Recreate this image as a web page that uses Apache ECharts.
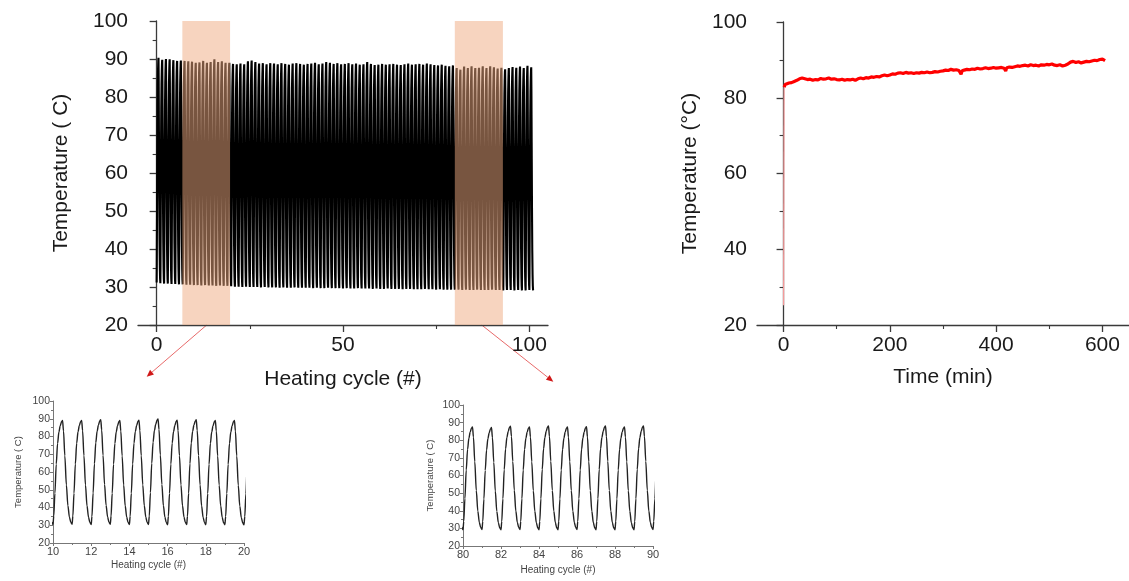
<!DOCTYPE html>
<html>
<head>
<meta charset="utf-8">
<script src="https://cdn.jsdelivr.net/npm/echarts@6/dist/echarts.min.js"></script>
<style>
html,body{margin:0;padding:0;background:#fff;}
#chart{width:1129px;height:581px;}
</style>
</head>
<body>
<div id="chart"></div>
<script>
// ---------- DATA ----------
// Heating-cycle experiment: peak temperature of each cycle (cycle 0..100)
const cyclePeaks = [
  90.3, 89.8, 90.0, 89.9, 89.7, 89.5, 89.6, 89.5, 89.4, 89.3,
  89.0, 89.1, 89.5, 89.0, 89.2, 89.9, 89.2, 89.4, 89.0, 89.0,
  88.7, 88.6, 88.8, 88.6, 89.4, 89.6, 89.2, 88.8, 88.9, 88.6,
  88.9, 88.8, 88.6, 88.9, 88.7, 88.5, 88.8, 88.9, 88.7, 88.5,
  88.7, 88.8, 89.0, 88.6, 88.8, 89.2, 89.0, 88.7, 88.9, 88.6,
  88.7, 88.9, 88.6, 88.8, 88.5, 88.6, 89.2, 88.7, 88.4, 88.5,
  88.7, 88.5, 88.6, 88.7, 88.5, 88.4, 88.6, 88.8, 88.5, 88.6,
  88.7, 88.5, 88.8, 88.6, 88.4, 88.3, 88.5, 88.2, 88.1, 88.3,
  87.6, 87.2, 88.0, 87.6, 88.1, 87.6, 87.7, 88.1, 87.6, 88.1,
  87.8, 87.5, 87.7, 87.3, 87.6, 87.9, 87.7, 88.0, 87.6, 88.2,
  87.8
];
// trough temperature at the start of each cycle (x = 0..101)
const cycleTroughs = [
  31.2, 31.0, 30.9, 30.9, 30.8, 30.8, 30.7, 30.7, 30.6, 30.6,
  30.5, 30.5, 30.4, 30.5, 30.4, 30.4, 30.3, 30.4, 30.3, 30.3,
  30.2, 30.1, 30.1, 30.0, 30.1, 30.0, 30.0, 30.0, 29.9, 30.0,
  29.9, 29.9, 29.9, 29.8, 29.9, 29.8, 29.8, 29.9, 29.8, 29.8,
  29.8, 29.8, 29.7, 29.8, 29.7, 29.7, 29.8, 29.7, 29.7, 29.7,
  29.6, 29.7, 29.6, 29.6, 29.7, 29.6, 29.6, 29.6, 29.5, 29.6,
  29.5, 29.5, 29.6, 29.5, 29.5, 29.5, 29.4, 29.5, 29.5, 29.4,
  29.4, 29.4, 29.5, 29.4, 29.4, 29.3, 29.4, 29.3, 29.3, 29.3,
  29.3, 29.3, 29.2, 29.3, 29.2, 29.2, 29.3, 29.2, 29.2, 29.2,
  29.3, 29.2, 29.2, 29.1, 29.2, 29.2, 29.1, 29.2, 29.1, 29.1,
  29.2, 29.1
];
// shape of one heating cycle
// (fraction of the cycle, fraction of the trough->peak swing)
const cyclePhase = [0, 0.04, 0.10, 0.17, 0.24, 0.31, 0.38, 0.45, 0.50, 0.55, 0.62, 0.70, 0.78, 0.86, 0.93];
const cycleLevel = [0, 0.08, 0.30, 0.58, 0.78, 0.89, 0.95, 0.99, 1.00, 0.90, 0.66, 0.38, 0.18, 0.07, 0.02];

// highlighted cycle windows (x ranges)
const shadeRanges = [[6.9, 19.7], [80.0, 92.9]];

// Continuous run: temperature vs time
const rampTime = [0, 1];
const rampTemp = [25.2, 82.8];
const runTime = [1, 3, 5, 10, 15, 20, 25, 30, 35, 40, 45, 50, 55, 60, 65, 70, 75, 80, 85, 90, 95,
  100, 105, 110, 115, 120, 125, 130, 135, 140, 145, 150, 155, 160, 165, 170, 175, 180, 185, 190, 195,
  200, 205, 210, 215, 220, 225, 230, 235, 240, 245, 250, 255, 260, 265, 270, 275, 280, 285, 290, 295,
  300, 305, 310, 315, 320, 325, 330, 334, 336, 340, 345, 350, 355, 360, 365, 370, 375, 380, 385, 390, 395,
  400, 405, 410, 415, 418, 420, 425, 430, 435, 440, 445, 450, 455, 460, 465, 470, 475, 480, 485, 490, 495,
  500, 505, 510, 515, 520, 525, 530, 535, 540, 545, 550, 555, 560, 565, 570, 575, 580, 585, 590, 595,
  600, 603, 605];
const runTemp = [82.8, 83.5, 83.4, 83.9, 84.0, 84.3, 84.6, 85.0, 85.2, 85.0, 84.8, 84.9, 84.6, 84.8, 84.7, 85.1, 84.9, 85.0, 85.2, 84.9, 85.0,
  84.8, 84.7, 84.9, 84.6, 84.8, 84.7, 84.9, 84.6, 85.0, 85.2, 85.0, 85.3, 85.2, 85.5, 85.4, 85.6, 85.5, 85.8, 86.0, 85.8,
  86.0, 86.3, 86.2, 86.5, 86.6, 86.4, 86.7, 86.5, 86.6, 86.4, 86.6, 86.5, 86.7, 86.6, 86.8, 86.6, 86.7, 86.9, 86.8, 87.0,
  87.1, 87.3, 87.2, 87.5, 87.3, 87.4, 87.2, 86.2, 87.1, 87.3, 87.5, 87.4, 87.6, 87.5, 87.8, 87.6, 87.7, 87.9, 87.7, 87.8, 88.0,
  87.8, 87.9, 88.0, 87.8, 87.1, 87.9, 88.1, 88.0, 88.2, 88.4, 88.3, 88.5, 88.6, 88.4, 88.7, 88.5, 88.6, 88.4, 88.7, 88.6, 88.8,
  88.7, 88.9, 88.6, 88.5, 88.7, 88.4, 88.6, 88.9, 89.4, 89.6, 89.3, 89.5, 89.2, 89.4, 89.6, 89.5, 89.7, 89.9, 89.8, 90.1,
  90.2, 89.9, 89.8];

// ---------- BUILD ----------
function buildWave() {
  const pts = [];
  for (let c = 0; c < cyclePeaks.length; c++) {
    const lo = cycleTroughs[c], hi = cyclePeaks[c], nx = cycleTroughs[c + 1];
    for (let k = 0; k < cyclePhase.length; k++) {
      const base = cyclePhase[k] <= 0.5 ? lo : nx;
      pts.push([c + cyclePhase[k], base + cycleLevel[k] * (hi - base)]);
    }
  }
  pts.push([cyclePeaks.length, cycleTroughs[cyclePeaks.length]]);
  return pts;
}
const wave = buildWave();
const rampData = rampTime.map((t, i) => [t, rampTemp[i]]);
const runData = runTime.map((t, i) => [t, runTemp[i]]);

const FONT = 'Liberation Sans, Arial, sans-serif';
const TXT = '#1a1a1a';
const AX = '#3a3a3a';

function bigY(grid, name, gap, interval) {
  return {
    type: 'value', gridIndex: grid, min: 20, max: 100, interval: interval,
    name: name, nameLocation: 'middle', nameGap: gap,
    nameTextStyle: {fontFamily: FONT, fontSize: 21, color: TXT},
    axisLine: {show: true, lineStyle: {color: AX, width: 1.3}},
    axisTick: {show: true, length: 7, lineStyle: {color: AX, width: 1.3}},
    minorTick: {show: true, splitNumber: 2, length: 4, lineStyle: {color: AX, width: 1.1}},
    axisLabel: {fontFamily: FONT, fontSize: 21, color: TXT, margin: 10},
    splitLine: {show: false}
  };
}
function bigX(grid, min, max, vals, name, gap) {
  return {
    type: 'value', gridIndex: grid, min: min, max: max, position: 'bottom',
    name: name, nameLocation: 'middle', nameGap: gap,
    nameTextStyle: {fontFamily: FONT, fontSize: 21, color: TXT},
    axisLine: {show: true, onZero: false, lineStyle: {color: AX, width: 1.3}},
    axisTick: {show: true, length: 7, customValues: vals, lineStyle: {color: AX, width: 1.3}},
    axisLabel: {fontFamily: FONT, fontSize: 21, color: TXT, margin: 10, customValues: vals},
    splitLine: {show: false}
  };
}
function minorX(grid, min, max, vals) {
  return {
    type: 'value', gridIndex: grid, min: min, max: max, position: 'bottom',
    axisLine: {show: false, onZero: false},
    axisTick: {show: true, length: 4, customValues: vals, lineStyle: {color: AX, width: 1.1}},
    axisLabel: {show: false, customValues: vals},
    splitLine: {show: false}
  };
}
function smallX(grid, min, max, gap) {
  return {
    type: 'value', gridIndex: grid, min: min, max: max, interval: 2,
    name: 'Heating cycle (#)', nameLocation: 'middle', nameGap: gap,
    nameTextStyle: {fontFamily: FONT, fontSize: 10, color: '#444'},
    axisLine: {show: true, onZero: false, lineStyle: {color: '#777', width: 1}},
    axisTick: {show: true, length: 3, lineStyle: {color: '#777'}},
    minorTick: {show: true, splitNumber: 2, length: 2, lineStyle: {color: '#777'}},
    axisLabel: {fontFamily: FONT, fontSize: 11, color: '#444', margin: 3},
    splitLine: {show: false}
  };
}
function smallY(grid, gap) {
  return {
    type: 'value', gridIndex: grid, min: 20, max: 100, interval: 10,
    name: 'Temperature ( C)', nameLocation: 'middle', nameGap: gap,
    nameTextStyle: {fontFamily: FONT, fontSize: 9.5, color: '#444'},
    axisLine: {show: true, lineStyle: {color: '#777', width: 1}},
    axisTick: {show: true, length: 3, lineStyle: {color: '#777'}},
    minorTick: {show: true, splitNumber: 2, length: 2, lineStyle: {color: '#777'}},
    axisLabel: {fontFamily: FONT, fontSize: 10.5, color: '#444', margin: 3},
    splitLine: {show: false}
  };
}

function arrow(x1, y1, x2, y2) {
  const dx = x2 - x1, dy = y2 - y1, L = Math.hypot(dx, dy);
  const ux = dx / L, uy = dy / L, hl = 7, hw = 3;
  const bx = x2 - ux * hl, by = y2 - uy * hl;
  return [
    {type: 'line', shape: {x1: x1, y1: y1, x2: bx, y2: by}, style: {stroke: '#e86a6a', lineWidth: 1}, silent: true},
    {type: 'polygon', shape: {points: [[x2, y2], [bx - uy * hw, by + ux * hw], [bx + uy * hw, by - ux * hw]]},
      style: {fill: '#d01818'}, silent: true}
  ];
}

const option = {
  animation: false,
  backgroundColor: '#ffffff',
  grid: [
    {left: 138, top: 21, width: 410, height: 304},
    {left: 53, top: 401, width: 191, height: 142},
    {left: 463, top: 405, width: 190, height: 141},
    {left: 757, top: 22, width: 373, height: 303}
  ],
  xAxis: [
    bigX(0, -5, 105, [0, 50, 100], 'Heating cycle (#)', 44),
    smallX(1, 10, 20, 17),
    smallX(2, 80, 90, 19),
    bigX(3, -50, 650, [0, 200, 400, 600], 'Time (min)', 42),
    minorX(0, -5, 105, [25, 75]),
    minorX(3, -50, 650, [100, 300, 500])
  ],
  yAxis: [
    bigY(0, 'Temperature ( C)', 66, 10),
    smallY(1, 30),
    smallY(2, 28),
    bigY(3, 'Temperature (\u00B0C)', 56, 20)
  ],
  series: [
    {type: 'line', xAxisIndex: 0, yAxisIndex: 0, data: wave, showSymbol: false, symbol: 'none',
      lineStyle: {color: '#000', width: 2.1}, z: 2, silent: true},
    {type: 'custom', xAxisIndex: 0, yAxisIndex: 0, data: shadeRanges, z: 5, silent: true,
      renderItem: function (params, api) {
        const p0 = api.coord([api.value(0), 100]);
        const p1 = api.coord([api.value(1), 20]);
        return {type: 'rect', shape: {x: p0[0], y: p0[1], width: p1[0] - p0[0], height: p1[1] - p0[1]},
          style: {fill: 'rgba(240,170,128,0.5)'}};
      }},
    {type: 'line', xAxisIndex: 1, yAxisIndex: 1, data: wave, showSymbol: false, symbol: 'none', clip: true,
      smooth: 0.3, smoothMonotone: 'x', lineStyle: {color: '#222', width: 1.4}, silent: true},
    {type: 'line', xAxisIndex: 2, yAxisIndex: 2, data: wave, showSymbol: false, symbol: 'none', clip: true,
      smooth: 0.3, smoothMonotone: 'x', lineStyle: {color: '#222', width: 1.4}, silent: true},
    {type: 'line', xAxisIndex: 3, yAxisIndex: 3, data: rampData, showSymbol: false, symbol: 'none',
      lineStyle: {color: '#f59a9a', width: 1.2}, silent: true},
    {type: 'line', xAxisIndex: 3, yAxisIndex: 3, data: runData, showSymbol: false, symbol: 'none',
      lineStyle: {color: '#ff0000', width: 3.2}, silent: true}
  ],
  graphic: [].concat(arrow(206.7, 325, 146.7, 376.7), arrow(481.7, 325, 553.3, 381.7))
};

const chart = echarts.init(document.getElementById('chart'), null, {renderer: 'canvas'});
chart.setOption(option);
</script>
</body>
</html>
